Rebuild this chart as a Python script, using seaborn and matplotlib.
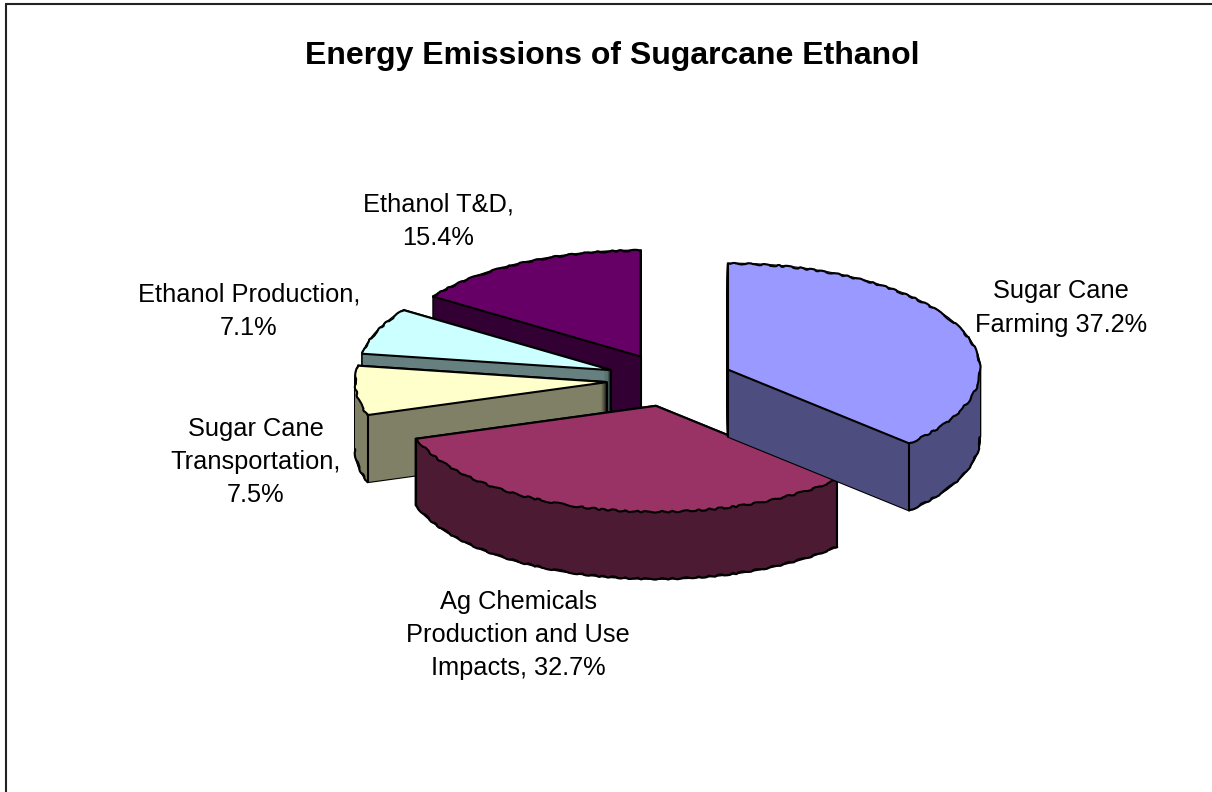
import numpy as np
import seaborn as sns
import matplotlib.pyplot as plt
from matplotlib.lines import Line2D

sns.set_theme(style='white')
plt.rcParams['font.family'] = ['Liberation Sans', 'DejaVu Sans']

title = 'Energy Emissions of Sugarcane Ethanol'
categories = ['Sugar Cane\nFarming 37.2%', 'Ag Chemicals\nProduction and Use\nImpacts, 32.7%',
              'Sugar Cane\nTransportation,\n7.5%', 'Ethanol Production,\n7.1%', 'Ethanol T&D,\n15.4%']
values = [37.2, 32.7, 7.5, 7.1, 15.4]
colors = ['#9999FF', '#993366', '#FFFFCC', '#CCFFFF', '#660066']
dark_colors = ['#4D4D80', '#4D1A33', '#808066', '#668080', '#330033']

W, H = 1212, 792
cx, cy = 670, 380      # pie centre in pixels
rx, ry = 252, 106      # ellipse radii
depth = 67
explode = [0.25] * 5
draw_order = [4, 3, 2, 1, 0]   # back to front
lw = 1.5

fig = plt.figure(figsize=(W / 100, H / 100), dpi=100, facecolor='white')
ax = fig.add_axes([0, 0, 1, 1])


def draw_level(offset, cols, edge=None, width=0, layer=0):
    # one flat pie, moved down by offset pixels
    wedges, _ = ax.pie(values, explode=explode, colors=cols, startangle=90, counterclock=False,
                       center=(0, -offset / ry),
                       wedgeprops=dict(edgecolor=edge if edge else 'none', linewidth=width))
    for i, w in enumerate(wedges):
        w.set_zorder(draw_order.index(i) * 10 + layer)
    return wedges


def arc_line(w, drop, z, front_only=False):
    # rough outer rim, the old renderer leaves it scalloped
    t = np.radians(np.linspace(w.theta1, w.theta2, 200))
    if front_only:
        t = t[np.sin(t) < 0]
    if len(t) == 0:
        return
    x = w.center[0] + np.cos(t)
    y = w.center[1] + np.sin(t) - drop / ry
    line, = ax.plot(x, y, color='black', lw=lw, zorder=z)
    line.set_sketch_params(scale=0.8, length=22, randomness=6)


# wall of the slices: black outline first, then the dark fill over it
for offset in range(0, depth + 1):
    draw_level(offset, ['black'] * 5, edge='black', width=1.6, layer=0)
for offset in range(0, depth + 1):
    draw_level(offset, dark_colors, layer=1)

top = draw_level(0, colors, layer=3)

for i, w in enumerate(top):
    x0, y0 = w.center
    base = draw_order.index(i) * 10
    corners = [(x0 + np.cos(np.radians(t)), y0 + np.sin(np.radians(t))) for t in (w.theta1, w.theta2)]

    # vertical edges: the apex and the corners on the front half
    for x, y in [(x0, y0)] + [c for c in corners if c[1] < y0]:
        ax.plot([x, x], [y, y - depth / ry], color='black', lw=lw, zorder=base + 2, solid_capstyle='butt')

    # outline of the top face
    ax.plot([corners[0][0], x0, corners[1][0]], [corners[0][1], y0, corners[1][1]],
            color='black', lw=lw, zorder=base + 4, solid_joinstyle='miter')
    arc_line(w, 0, base + 4)
    arc_line(w, depth, base + 2, front_only=True)

ax.set_aspect('auto')
ax.set_xlim(-cx / rx, (W - cx) / rx)
ax.set_ylim((cy - H) / ry, cy / ry)
ax.axis('off')

fig.text(612 / W, 1 - 56 / H, title, ha='center', va='center', fontsize=23, fontweight='bold', color='black')

label_pos = [(1061, 308), (518, 635), (256, 462), (249, 311), (438, 221)]
for text, (x, y) in zip(categories, label_pos):
    fig.text(x / W, 1 - y / H, text, ha='center', va='center', fontsize=18.3, color='black', linespacing=1.49)

# chart area frame, only top and left are inside the picture
fig.add_artist(Line2D([6 / W, 6 / W], [0, 1 - 4 / H], color='#222222', lw=1.5))
fig.add_artist(Line2D([6 / W, 1], [1 - 4 / H, 1 - 4 / H], color='#222222', lw=1.5))

fig.savefig('out.png', dpi=100)
